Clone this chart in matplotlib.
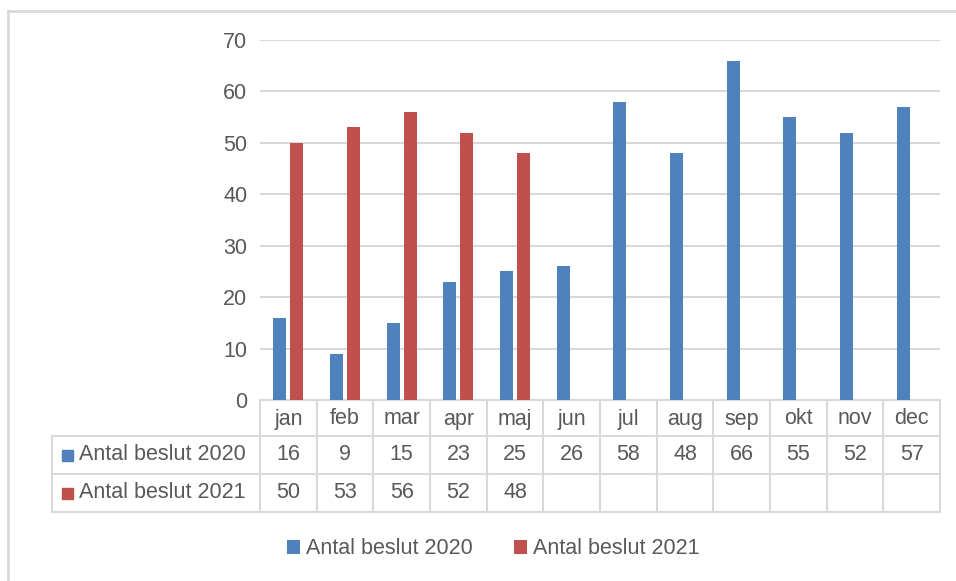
import matplotlib.pyplot as plt
from matplotlib.lines import Line2D
from matplotlib.transforms import blended_transform_factory

months = ["jan", "feb", "mar", "apr", "maj", "jun", "jul", "aug", "sep", "okt", "nov", "dec"]
beslut_2020 = [16, 9, 15, 23, 25, 26, 58, 48, 66, 55, 52, 57]
beslut_2021 = [50, 53, 56, 52, 48]
series_names = ["Antal beslut 2020", "Antal beslut 2021"]

BLUE = "#4F81BD"
RED = "#C0504D"
TXT = "#595959"
GRID = "#D9D9D9"
FS = 15.5

plt.rcParams["font.family"] = ["Liberation Sans", "DejaVu Sans"]

W, H = 956, 581
fig = plt.figure(figsize=(W / 100, H / 100), dpi=100)

# plot area in pixels: x 260..940, y 40..400
ax = fig.add_axes([260 / W, (H - 400) / H, 680 / W, 360 / H])

x = list(range(len(months)))
bw = 0.23
off = 0.15
b2020 = [i - off for i in x]
b2021 = [i + off for i in x[:len(beslut_2021)]]
ax.bar(b2020, beslut_2020, width=bw, color=BLUE, zorder=3, label=series_names[0])
ax.bar(b2021, beslut_2021, width=bw, color=RED, zorder=3, label=series_names[1])

ax.set_xlim(-0.5, len(months) - 0.5)
ax.set_ylim(0, 70)
ax.set_yticks(range(0, 71, 10))
ax.yaxis.grid(True, color=GRID, linewidth=1.5, zorder=0)
ax.tick_params(axis="y", length=0, pad=9, labelsize=FS, labelcolor=TXT)
ax.set_xticks([])
for s in ["top", "right", "left"]:
    ax.spines[s].set_visible(False)
ax.spines["bottom"].set_color(GRID)
ax.spines["bottom"].set_linewidth(1.5)

# data table below the axis
tr = blended_transform_factory(ax.transData, fig.transFigure)
def fy(py):
    return (H - py) / H

left_px_data = -0.5 + (52 - 260) / (680 / 12)
rows_y = [400, 436, 474, 512]
lk = dict(color=GRID, linewidth=1.5, transform=tr, clip_on=False)

# horizontal lines
for py in rows_y[1:]:
    ax.add_line(Line2D([left_px_data, 11.5], [fy(py), fy(py)], **lk))
# vertical lines in the month columns
for i in range(len(months) + 1):
    xe = i - 0.5
    ax.add_line(Line2D([xe, xe], [fy(400), fy(512)], **lk))
ax.add_line(Line2D([left_px_data, left_px_data], [fy(436), fy(512)], **lk))

# header row
for i, m in enumerate(months):
    ax.text(i, fy(419), m, transform=tr, ha="center", va="center", fontsize=FS, color=TXT)

# series rows
row_vals = [beslut_2020, beslut_2021]
colors = [BLUE, RED]
for r, (vals, name, c) in enumerate(zip(row_vals, series_names, colors)):
    yc = fy((rows_y[r + 1] + rows_y[r + 2]) / 2)
    fig.patches.append(plt.Rectangle((62 / W, yc - 5.5 / H), 11 / W, 11 / H,
                                     transform=fig.transFigure, color=c))
    fig.text(79 / W, yc, name, ha="left", va="center", fontsize=FS, color=TXT)
    for i, v in enumerate(vals):
        ax.text(i, yc, str(v), transform=tr, ha="center", va="center", fontsize=FS, color=TXT)

# legend
fig.legend(loc="center", bbox_to_anchor=(0.516, fy(549)), ncol=2, frameon=False,
           fontsize=FS, labelcolor=TXT, handlelength=0.6, handleheight=0.6,
           handletextpad=0.3, columnspacing=1.9)

# chart-area frame (left and top edges)
fig.add_artist(Line2D([8 / W, 8 / W], [0, fy(11)], color=GRID, linewidth=2, transform=fig.transFigure))
fig.add_artist(Line2D([8 / W, 1], [fy(11), fy(11)], color=GRID, linewidth=2, transform=fig.transFigure))

fig.savefig("out.png", dpi=100)
plt.close(fig)
